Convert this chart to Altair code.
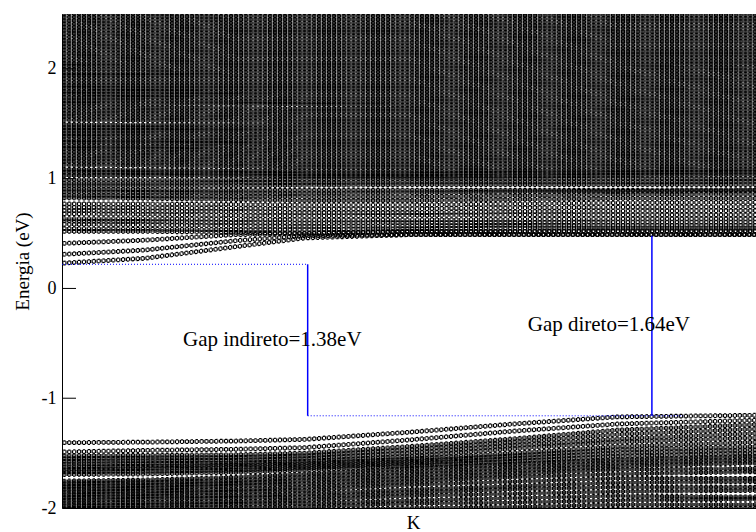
import altair as alt
import pandas as pd

# k-positions (arbitrary units along the path, 0..100) where band energies were read
K_ANCHORS = [0, 12, 25, 35, 50, 65, 80, 100]

# lowest conduction bands (eV), read at K_ANCHORS
CB_LOW = [
    [0.23, 0.275, 0.38, 0.46, 0.49, 0.49, 0.49, 0.49],
    [0.31, 0.35, 0.435, 0.48, 0.49, 0.49, 0.49, 0.49],
    [0.41, 0.44, 0.49, 0.50, 0.52, 0.52, 0.525, 0.525],
]
CB_MID = [
    [0.52, 0.52, 0.51, 0.505, 0.52, 0.52, 0.525, 0.525],
    [0.545, 0.54, 0.535, 0.535, 0.545, 0.55, 0.55, 0.55],
    [0.585, 0.58, 0.57, 0.565, 0.57, 0.575, 0.575, 0.575],
    [0.615, 0.61, 0.60, 0.595, 0.60, 0.60, 0.605, 0.605],
    [0.635, 0.635, 0.63, 0.625, 0.625, 0.63, 0.633, 0.633],
    [0.68, 0.675, 0.665, 0.66, 0.665, 0.67, 0.67, 0.67],
    [0.71, 0.705, 0.70, 0.69, 0.69, 0.70, 0.705, 0.709],
    [0.74, 0.735, 0.73, 0.725, 0.725, 0.735, 0.74, 0.745],
    [0.77, 0.77, 0.765, 0.76, 0.76, 0.77, 0.78, 0.785],
]
CB_UPPER = [
    [0.825, 0.82, 0.81, 0.80, 0.80, 0.81, 0.82, 0.82],
    [0.85, 0.845, 0.84, 0.835, 0.835, 0.845, 0.855, 0.86],
    [0.88, 0.875, 0.87, 0.865, 0.87, 0.88, 0.885, 0.89],
    [0.905, 0.90, 0.895, 0.895, 0.895, 0.895, 0.895, 0.90],
    [0.935, 0.935, 0.935, 0.94, 0.945, 0.945, 0.945, 0.945],
    [0.96, 0.96, 0.965, 0.965, 0.97, 0.97, 0.97, 0.975],
    [0.99, 0.99, 0.99, 0.995, 1.0, 1.0, 1.0, 1.0],
]
CB_HIGH = [
    [1.03, 1.03, 1.025, 1.02, 1.02, 1.025, 1.03, 1.035],
    [1.06, 1.055, 1.05, 1.045, 1.045, 1.05, 1.055, 1.06],
    [1.085, 1.08, 1.075, 1.07, 1.07, 1.075, 1.08, 1.085],
    [1.125, 1.12, 1.11, 1.10, 1.10, 1.105, 1.11, 1.115],
    [1.155, 1.15, 1.14, 1.13, 1.13, 1.135, 1.14, 1.145],
    [1.185, 1.18, 1.17, 1.16, 1.16, 1.165, 1.17, 1.175],
    [1.215, 1.21, 1.20, 1.19, 1.19, 1.195, 1.20, 1.205],
    [1.245, 1.24, 1.23, 1.22, 1.22, 1.225, 1.23, 1.235],
    [1.275, 1.27, 1.26, 1.25, 1.25, 1.255, 1.26, 1.265],
    [1.30, 1.295, 1.29, 1.28, 1.28, 1.285, 1.29, 1.295],
    [1.33, 1.325, 1.32, 1.31, 1.31, 1.315, 1.32, 1.325],
    [1.355, 1.35, 1.345, 1.34, 1.34, 1.345, 1.35, 1.355],
    [1.385, 1.38, 1.375, 1.37, 1.37, 1.375, 1.38, 1.385],
    [1.41, 1.41, 1.405, 1.40, 1.40, 1.405, 1.41, 1.415],
    [1.44, 1.44, 1.435, 1.43, 1.43, 1.435, 1.44, 1.445],
    [1.465, 1.465, 1.46, 1.46, 1.46, 1.465, 1.47, 1.475],
    [1.495, 1.49, 1.49, 1.49, 1.49, 1.495, 1.50, 1.505],
    [1.535, 1.53, 1.525, 1.52, 1.52, 1.525, 1.53, 1.535],
    [1.565, 1.56, 1.555, 1.55, 1.55, 1.555, 1.56, 1.565],
    [1.595, 1.59, 1.585, 1.58, 1.58, 1.585, 1.59, 1.595],
    [1.625, 1.62, 1.615, 1.61, 1.61, 1.615, 1.62, 1.625],
    [1.655, 1.65, 1.645, 1.64, 1.64, 1.645, 1.65, 1.655],
    [1.685, 1.68, 1.68, 1.675, 1.67, 1.675, 1.68, 1.685],
    [1.71, 1.71, 1.705, 1.70, 1.70, 1.705, 1.71, 1.715],
    [1.74, 1.74, 1.735, 1.73, 1.73, 1.735, 1.74, 1.745],
    [1.77, 1.765, 1.765, 1.76, 1.76, 1.765, 1.77, 1.775],
    [1.795, 1.795, 1.79, 1.79, 1.79, 1.795, 1.80, 1.805],
    [1.825, 1.82, 1.82, 1.82, 1.82, 1.825, 1.83, 1.835],
    [1.85, 1.85, 1.85, 1.85, 1.85, 1.855, 1.86, 1.865],
    [1.88, 1.88, 1.88, 1.88, 1.88, 1.885, 1.89, 1.895],
    [1.91, 1.91, 1.91, 1.91, 1.91, 1.915, 1.92, 1.925],
    [1.94, 1.94, 1.94, 1.94, 1.94, 1.945, 1.95, 1.955],
    [1.965, 1.965, 1.97, 1.97, 1.97, 1.975, 1.98, 1.985],
    [1.995, 1.995, 2.0, 2.0, 2.0, 2.005, 2.01, 2.015],
    [2.025, 2.025, 2.03, 2.03, 2.03, 2.035, 2.04, 2.045],
    [2.05, 2.055, 2.06, 2.06, 2.06, 2.065, 2.07, 2.07],
    [2.08, 2.085, 2.09, 2.09, 2.09, 2.095, 2.10, 2.10],
    [2.11, 2.115, 2.12, 2.12, 2.12, 2.125, 2.13, 2.13],
    [2.14, 2.145, 2.15, 2.15, 2.15, 2.155, 2.16, 2.16],
    [2.17, 2.175, 2.18, 2.18, 2.18, 2.185, 2.19, 2.19],
    [2.20, 2.205, 2.21, 2.21, 2.21, 2.215, 2.22, 2.22],
    [2.23, 2.235, 2.24, 2.24, 2.24, 2.245, 2.25, 2.25],
    [2.26, 2.265, 2.27, 2.27, 2.27, 2.275, 2.28, 2.28],
    [2.29, 2.295, 2.30, 2.30, 2.30, 2.305, 2.31, 2.31],
    [2.32, 2.325, 2.33, 2.33, 2.33, 2.335, 2.34, 2.34],
    [2.35, 2.355, 2.36, 2.36, 2.36, 2.365, 2.37, 2.37],
    [2.38, 2.385, 2.39, 2.39, 2.39, 2.395, 2.40, 2.40],
    [2.41, 2.415, 2.42, 2.42, 2.42, 2.425, 2.43, 2.43],
    [2.44, 2.445, 2.45, 2.45, 2.45, 2.455, 2.46, 2.46],
    [2.47, 2.475, 2.48, 2.48, 2.48, 2.485, 2.49, 2.49],
    [2.50, 2.505, 2.51, 2.51, 2.51, 2.515, 2.52, 2.52],
    [2.53, 2.535, 2.54, 2.54, 2.54, 2.545, 2.55, 2.55],
]
# valence bands (eV), read at K_ANCHORS
VB_TOP = [
    [-1.405, -1.40, -1.39, -1.375, -1.31, -1.235, -1.17, -1.155],
    [-1.49, -1.475, -1.465, -1.45, -1.38, -1.30, -1.235, -1.20],
]
VB_UPPER = [
    [-1.525, -1.52, -1.515, -1.50, -1.44, -1.37, -1.29, -1.24],
    [-1.55, -1.545, -1.54, -1.525, -1.47, -1.40, -1.33, -1.28],
    [-1.575, -1.57, -1.565, -1.55, -1.50, -1.43, -1.37, -1.32],
    [-1.60, -1.595, -1.59, -1.575, -1.53, -1.46, -1.40, -1.36],
    [-1.625, -1.62, -1.61, -1.595, -1.555, -1.50, -1.44, -1.40],
    [-1.65, -1.64, -1.63, -1.615, -1.575, -1.525, -1.47, -1.44],
    [-1.67, -1.665, -1.655, -1.635, -1.595, -1.55, -1.50, -1.47],
    [-1.695, -1.69, -1.675, -1.655, -1.615, -1.575, -1.53, -1.50],
]
VB_LOWER = [
    [-1.755, -1.745, -1.72, -1.69, -1.64, -1.60, -1.56, -1.53],
    [-1.78, -1.77, -1.75, -1.72, -1.67, -1.63, -1.59, -1.56],
    [-1.805, -1.795, -1.775, -1.75, -1.70, -1.66, -1.62, -1.59],
    [-1.83, -1.82, -1.80, -1.78, -1.73, -1.69, -1.65, -1.64],
    [-1.855, -1.845, -1.83, -1.81, -1.76, -1.72, -1.69, -1.67],
    [-1.88, -1.87, -1.855, -1.84, -1.79, -1.76, -1.73, -1.73],
    [-1.905, -1.895, -1.885, -1.87, -1.83, -1.80, -1.77, -1.76],
    [-1.93, -1.92, -1.91, -1.90, -1.86, -1.83, -1.81, -1.81],
    [-1.955, -1.95, -1.94, -1.93, -1.89, -1.87, -1.85, -1.84],
    [-1.98, -1.975, -1.965, -1.96, -1.93, -1.91, -1.89, -1.90],
    [-2.005, -2.0, -1.995, -1.99, -1.96, -1.95, -1.93, -1.92],
    [-2.03, -2.03, -2.02, -2.02, -2.0, -1.99, -1.97, -1.97],
    [-2.05, -2.05, -2.05, -2.05, -2.03, -2.02, -2.01, -2.0],
]

# gap annotation values
K_INDIRECT = 35.4
K_DIRECT = 85.0
K_DOT_END = 89.5
CBM = 0.22
VBM = -1.16
CB_DIRECT = 0.48
LABELS = ["Gap indireto=1.38eV", "Gap direto=1.64eV"]
LABEL_K = [30.3, 78.8]
LABEL_E = [-0.47, -0.33]
Y_TICKS = [-2, -1, 0, 1, 2]

# how solid each group of bands looks (circle interiors darkened in dense regions)
GROUP_FILL = {"low": 0.0, "mid": 0.0, "upper": 0.55, "high": 0.8,
              "vtop": 0.0, "vup": 0.45, "vlow": 0.8}

rows = []
bid = 0
for name, group in (("low", CB_LOW), ("mid", CB_MID), ("upper", CB_UPPER), ("high", CB_HIGH),
                    ("vtop", VB_TOP), ("vup", VB_UPPER), ("vlow", VB_LOWER)):
    for band in group:
        for k, e in zip(K_ANCHORS, band):
            rows.append({"band": bid, "grp": name, "fill": GROUP_FILL[name], "k": k, "E": e})
        bid += 1
bands = pd.DataFrame(rows)

FONT = "Liberation Serif"
xs = alt.Scale(domain=[0, 100], nice=False, zero=False)
ys = alt.Scale(domain=[-2, 2.5], nice=False, zero=False)
x_axis = alt.Axis(title="K", ticks=False, labels=False, grid=False,
                  domainColor="black", domainWidth=1, titleX=351, titleY=14,
                  titleBaseline="middle", titleFontSize=19, titleFont=FONT,
                  titleFontWeight="normal", titleColor="black")
y_axis = alt.Axis(title="Energia (eV)", values=Y_TICKS, ticks=False, grid=False,
                  domainColor="black", domainWidth=1, labelPadding=6,
                  labelFont=FONT, labelFontSize=18, labelColor="black",
                  labelExpr="datum.value < 0 ? '-' + abs(datum.value) : '' + datum.value",
                  titleX=-40, titleY=247, titleAngle=-90, titleBaseline="middle",
                  titleAlign="center", titleFontSize=19, titleFont=FONT,
                  titleFontWeight="normal", titleColor="black")

X = alt.X("k:Q", scale=xs, axis=x_axis)
Y = alt.Y("E:Q", scale=ys, axis=y_axis)

base = alt.Chart(bands).encode(x=X, y=Y, detail="band:N")
sides = base.mark_line(color="black", strokeWidth=3.2, strokeDash=[1.2, 2.0, 1.2, 0.5],
                       strokeDashOffset=4.7, clip=True)
tops = base.mark_line(color="black", strokeWidth=1.2, strokeDash=[2.4, 2.5],
                      strokeDashOffset=3.7, yOffset=-1.8, clip=True)
bottoms = base.mark_line(color="black", strokeWidth=1.2, strokeDash=[2.4, 2.5],
                         strokeDashOffset=3.7, yOffset=1.8, clip=True)
fills = base.transform_filter("datum.fill > 0").mark_line(
    color="black", strokeWidth=2.6, strokeDash=[2.2, 2.7], strokeDashOffset=3.6, clip=True
).encode(opacity=alt.Opacity("fill:Q", scale=None, legend=None))

ticks = alt.Chart(pd.DataFrame({"E": Y_TICKS})).mark_rule(color="black", strokeWidth=1).encode(
    y=Y, x=alt.value(0), x2=alt.value(14))

hdots = alt.Chart(pd.DataFrame({"k": [0, K_INDIRECT], "k2": [K_INDIRECT, K_DOT_END],
                                "E": [CBM, VBM]})).mark_rule(
    color="#0000ff", strokeWidth=1, strokeDash=[1, 2]).encode(x=X, x2="k2:Q", y=Y)
vlines = alt.Chart(pd.DataFrame({"k": [K_INDIRECT, K_DIRECT], "E": [CBM, CB_DIRECT],
                                 "E2": [VBM, VBM]})).mark_rule(
    color="#0000ff", strokeWidth=1.5).encode(x=X, y=Y, y2="E2:Q")
texts = alt.Chart(pd.DataFrame({"k": LABEL_K, "E": LABEL_E, "t": LABELS})).mark_text(
    font=FONT, fontSize=21, align="center", baseline="middle", color="black").encode(
    x=X, y=Y, text="t:N")

chart = alt.layer(sides, tops, bottoms, fills, ticks, hdots, vlines, texts).properties(
    width=694, height=494,
    background="white",
    autosize=alt.AutoSizeParams(type="none"),
    padding={"left": 62, "top": 14, "right": 0, "bottom": 24},
).configure_view(strokeWidth=0)

chart.save("out.html", embed_options={"renderer": "svg", "actions": False})
